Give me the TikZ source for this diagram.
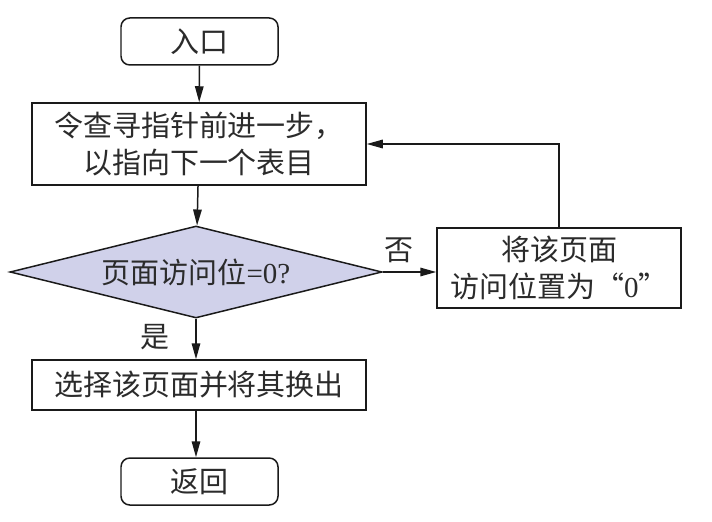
\documentclass[tikz,border=0pt]{standalone}
\usepackage{fontspec}
\setmainfont{Liberation Serif}
\newfontfamily\cjk{Noto Sans CJK SC}
\usetikzlibrary{positioning,arrows.meta,shapes.geometric}
\definecolor{ink}{HTML}{1A1A1A}
\definecolor{textc}{HTML}{2B2B2B}
\definecolor{lavender}{HTML}{D0D1EA}

\begin{document}
\begin{tikzpicture}[
  every node/.style={font=\fontsize{16.5}{21}\selectfont, color=textc},
  stage/.style={
    rectangle, draw=ink, line width=0.85pt,
    fill=white, align=center, inner sep=2pt
  },
  terminal/.style={stage, rounded corners=5pt, minimum width=3.14cm, minimum height=0.94cm},
  decide/.style={
    diamond, draw=ink, line width=0.85pt, fill=lavender,
    minimum width=7.44cm, minimum height=1.84cm, inner sep=0pt, aspect=4
  },
  flow/.style={->, >={Triangle[length=3.2mm,width=1.7mm]}, draw=ink, line width=0.85pt}
]
\useasboundingbox (0,0) rectangle (14.24,10.42);

% Nodes
\node[terminal] (entry) at (3.99,9.59) {\cjk 入口};
\node[stage, minimum width=6.68cm, minimum height=1.64cm] (advance) at (3.98,7.54)
  {\cjk 令查寻指针前进一步，\\\cjk 以指向下一个表目};
\node[decide] (check) at (3.92,4.98) {{\cjk 页面访问位}=0?};
\node[stage, minimum width=4.88cm, minimum height=1.6cm] (reset) at (11.18,5.06)
  {\cjk 将该页面\\{\cjk 访问位置为“}0{\cjk ”}};
\node[stage, minimum width=6.68cm, minimum height=1.0cm] (evict) at (3.98,2.72)
  {\cjk 选择该页面并将其换出};
\node[terminal] (exit) at (3.99,0.79) {\cjk 返回};

% Labels
\node (no) at (7.98,5.42) {\cjk 否};
\node (yes) at (3.10,3.68) {\cjk 是};

% Arrows
\draw[flow] (entry) -- (advance);
\draw[flow] (advance) -- (check);
\draw[flow] (check.east) -- (check.east -| reset.west);
\draw[flow] (reset.north) |- (advance.east);
\draw[flow] (check.south) -- (check.south |- evict.north);
\draw[flow] (evict.south -| check.south) -- (exit.north -| check.south);

\end{tikzpicture}
\end{document}
